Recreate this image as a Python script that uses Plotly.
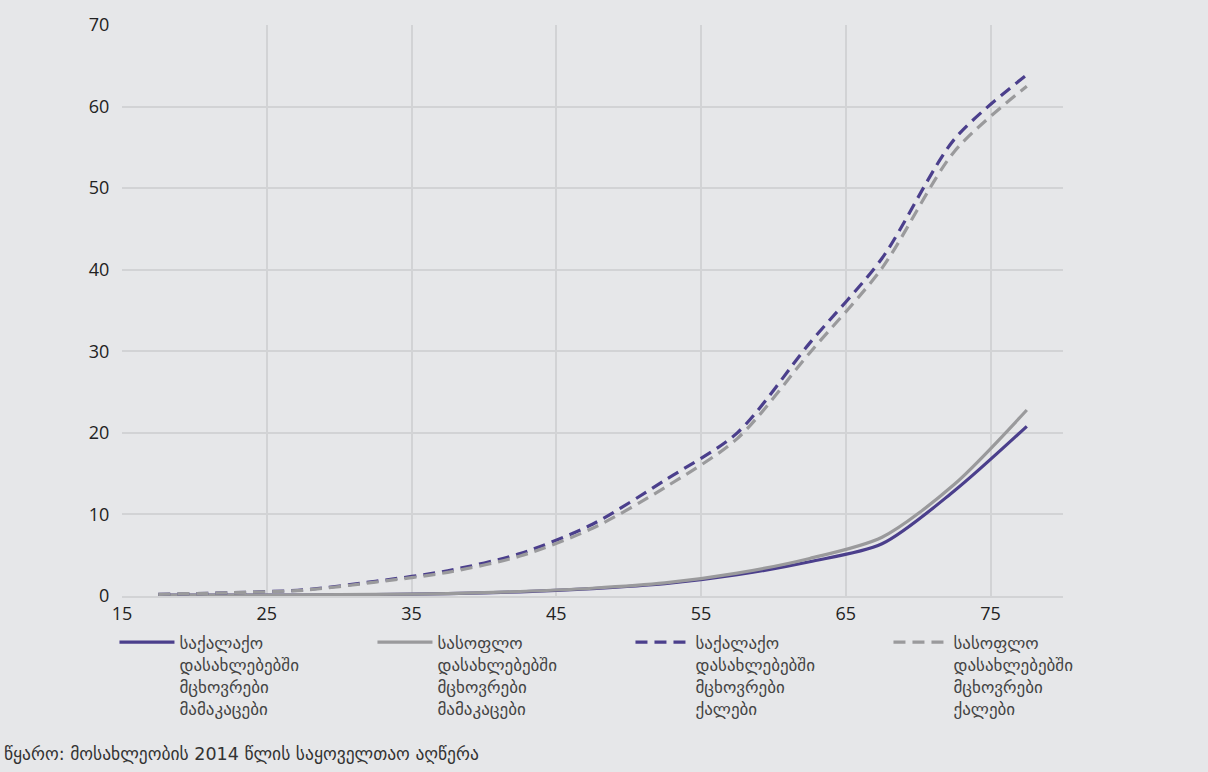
import plotly.graph_objects as go

ages = [17.5, 22.5, 27.5, 32.5, 37.5, 42.5, 47.5, 52.5, 57.5, 62.5, 67.5, 72.5, 77.5]
urban_men = [0.1, 0.1, 0.12, 0.18, 0.3, 0.5, 0.9, 1.5, 2.6, 4.2, 6.4, 12.9, 20.8]
rural_men = [0.1, 0.1, 0.15, 0.2, 0.3, 0.55, 0.95, 1.6, 2.8, 4.6, 7.2, 13.7, 22.8]
urban_women = [0.2, 0.4, 0.75, 1.8, 3.1, 5.2, 8.8, 14.2, 20.0, 31.0, 41.4, 56.0, 63.9]
rural_women = [0.2, 0.4, 0.7, 1.7, 2.9, 4.9, 8.3, 13.3, 19.3, 29.8, 40.2, 54.5, 62.5]

names = [
    "საქალაქო<br>დასახლებებში<br>მცხოვრები<br>მამაკაცები",
    "სასოფლო<br>დასახლებებში<br>მცხოვრები<br>მამაკაცები",
    "საქალაქო<br>დასახლებებში<br>მცხოვრები<br>ქალები",
    "სასოფლო<br>დასახლებებში<br>მცხოვრები<br>ქალები",
]
source_text = "წყარო: მოსახლეობის 2014 წლის საყოველთაო აღწერა"

PURPLE = "#4B3F8C"
GRAY = "#9A9A9C"

fig = go.Figure()
series = [
    (urban_men, PURPLE, "solid"),
    (rural_men, GRAY, "solid"),
    (urban_women, PURPLE, "12px,7px"),
    (rural_women, GRAY, "12px,7px"),
]
for (vals, col, dash), nm in zip(series, names):
    fig.add_trace(go.Scatter(
        x=ages, y=vals, name=nm, mode="lines",
        line=dict(color=col, width=3.2, dash=dash, shape="spline", smoothing=0.8),
    ))

BG = "#E6E7E9"
GRID = "#D2D3D5"
fig.update_layout(
    width=1208, height=772,
    paper_bgcolor=BG, plot_bgcolor=BG,
    margin=dict(l=122, r=145, t=23, b=176),
    font=dict(family="Open Sans, DejaVu Sans, sans-serif", size=16, color="#222222"),
    xaxis=dict(range=[15, 80], tickmode="array", tickvals=[15, 25, 35, 45, 55, 65, 75],
               showgrid=True, gridcolor=GRID, gridwidth=2, zeroline=False,
               showline=True, linecolor=GRID, linewidth=2,
               ticks="", tickfont=dict(size=18, color="#222222")),
    yaxis=dict(range=[0, 70], tickmode="array", tickvals=[0, 10, 20, 30, 40, 50, 60, 70],
               showgrid=True, gridcolor=GRID, gridwidth=2, zeroline=False,
               ticks="outside", ticklen=8, tickcolor=BG,
               tickfont=dict(size=18, color="#222222")),
    legend=dict(orientation="h", x=-0.008, xanchor="left", y=-0.05, yanchor="top",
                entrywidth=188, entrywidthmode="pixels", valign="top",
                itemwidth=55,
                font=dict(family="DejaVu Sans, sans-serif", size=17, color="#444444"),
                bgcolor="rgba(0,0,0,0)", tracegroupgap=0),
    showlegend=True,
)
fig.add_annotation(text=source_text, xref="paper", yref="paper",
                   x=-120/941, y=-0.277, xanchor="left", yanchor="middle",
                   showarrow=False,
                   font=dict(family="DejaVu Sans, sans-serif", size=17.5, color="#333333"))

fig.write_html("out.html", config={"displayModeBar": False},
               post_script="document.body.style.margin='0';document.body.style.background='#E6E7E9';")
